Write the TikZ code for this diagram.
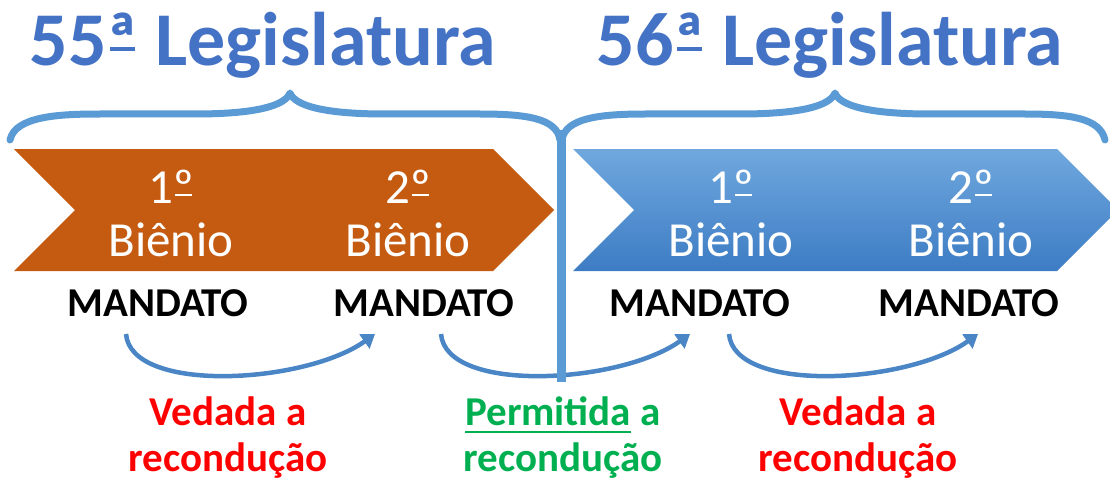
\documentclass[tikz,border=0pt]{standalone}
\usepackage{fontspec}
\setmainfont{Carlito}
\usetikzlibrary{arrows.meta}
\definecolor{laranja}{HTML}{C55A11}
\definecolor{azulclaro}{HTML}{70A8DE}
\definecolor{azulescuro}{HTML}{3D7CC4}
\definecolor{azullinha}{HTML}{5B9BD5}
\definecolor{azulseta}{HTML}{4A86C6}
\definecolor{azultitulo}{HTML}{4472C4}
\definecolor{vermelho}{HTML}{FF0000}
\definecolor{verde}{HTML}{00B050}
\newcommand{\sublinha}[1]{\setbox0\hbox{#1}\rlap{\rule[-7pt]{\wd0}{2pt}}\box0\relax}
\newcommand{\ordinal}[3]{\setbox0\hbox{#1}\rlap{\hspace{.04em}\rule[#2]{\dimexpr\wd0-.08em\relax}{#3}}\box0\relax}
\begin{document}
\begin{tikzpicture}[x=1pt, y=-1pt, line join=round, line cap=round,
  titulo/.style={font=\fontsize{76}{80}\selectfont\bfseries, text=azultitulo, anchor=base, inner sep=0pt},
  bienio/.style={font=\fontsize{49}{53}\selectfont, text=white, align=center, inner sep=0pt},
  mandato/.style={font=\fontsize{41}{48}\selectfont\bfseries, anchor=base, inner sep=0pt},
  nota/.style={font=\fontsize{41}{46}\selectfont\bfseries, align=center, inner sep=0pt},
  chave/.style={draw=azullinha, line width=7pt},
  seta/.style={draw=azulseta, line width=4.5pt, line cap=butt, -{Triangle[width=17pt,length=13pt]}}]
\clip (0,0) rectangle (1110,484);
% legislaturas
\node[titulo] (leg55) at (263,66) {55\ordinal{ª}{.2em}{.055em} Legislatura};
\node[titulo] (leg56) at (830,66) {56\ordinal{ª}{.2em}{.055em} Legislatura};
\draw[chave] (10,140) .. controls (15,116) and (60,114) .. (100,114) -- (195,114)
  .. controls (255,114) and (285,106) .. (290,93) .. controls (295,106) and (325,114) .. (385,114)
  -- (480,114) .. controls (525,114) and (557,118) .. (560,140);
\draw[chave] (562,140) .. controls (565,118) and (600,114) .. (645,114) -- (740,114)
  .. controls (800,114) and (830,106) .. (835,93) .. controls (840,106) and (870,114) .. (930,114)
  -- (1025,114) .. controls (1070,114) and (1100,118) .. (1105,140);
% bienios
\fill[laranja] (14,149) -- (493,149) -- (554,210) -- (493,271) -- (14,271) -- (75,210) -- cycle;
\shade[top color=azulclaro, bottom color=azulescuro] (573,149) -- (1057,149) -- (1118,210)
  -- (1057,271) -- (573,271) -- (634,210) -- cycle;
\node[bienio] (b1) at (171,213) {1\ordinal{º}{.14em}{.05em}\\Biênio};
\node[bienio] (b2) at (408,213) {2\ordinal{º}{.14em}{.05em}\\Biênio};
\node[bienio] (b3) at (731,213) {1\ordinal{º}{.14em}{.05em}\\Biênio};
\node[bienio] (b4) at (971,213) {2\ordinal{º}{.14em}{.05em}\\Biênio};
% mandatos
\node[mandato] (m1) at (158,316) {MANDATO};
\node[mandato] (m2) at (424,316) {MANDATO};
\node[mandato] (m3) at (700,316) {MANDATO};
\node[mandato] (m4) at (969,316) {MANDATO};
% reconducao
\coordinate (s1) at (126,334);
\coordinate (e1) at (375,334);
\coordinate (s2) at (441,334);
\coordinate (e2) at (690,334);
\coordinate (s3) at (729,334);
\coordinate (e3) at (978,334);
\draw[seta] (s1) .. controls +(5,60) and +(-70,50) .. (e1);
\draw[seta] (s2) .. controls +(5,60) and +(-70,50) .. (e2);
\draw[seta] (s3) .. controls +(5,60) and +(-70,50) .. (e3);
\draw[azullinha, line width=9pt, line cap=butt] (561,130) -- (561,382);
\node[nota, text=vermelho] (n1) at (228,438) {Vedada a\\recondução};
\node[nota, text=verde] (n2) at (563,438) {\sublinha{Permitida} a\\recondução};
\node[nota, text=vermelho] (n3) at (858,438) {Vedada a\\recondução};
\end{tikzpicture}
\end{document}
